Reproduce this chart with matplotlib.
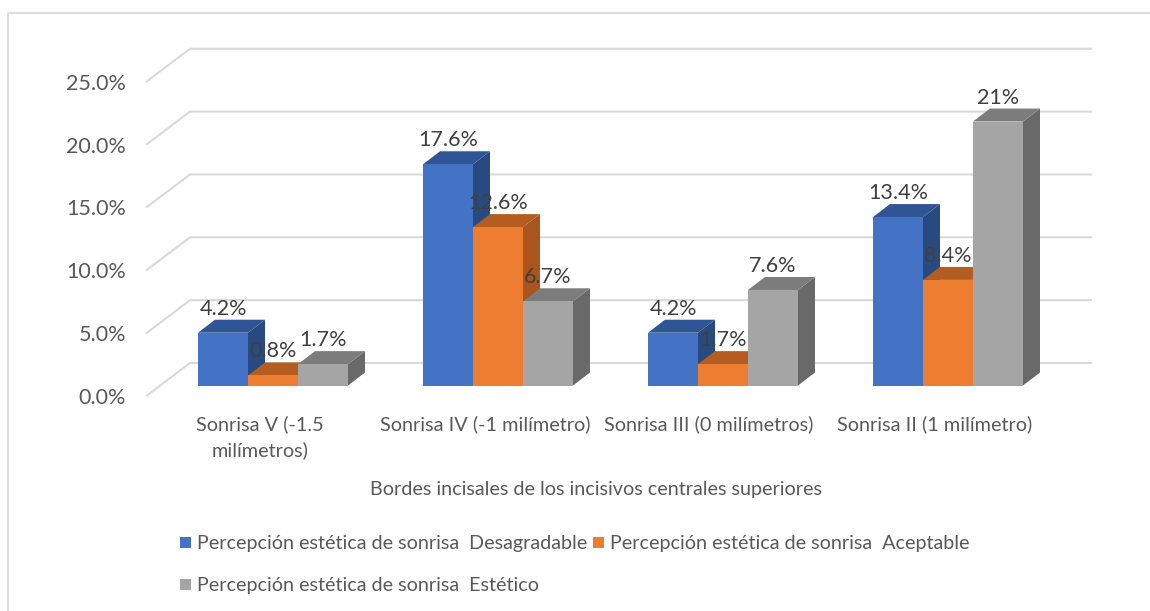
import matplotlib
matplotlib.use("Agg")
import matplotlib.pyplot as plt
from matplotlib.patches import Polygon, Rectangle

categories = ["Sonrisa V (-1.5\nmilímetros)", "Sonrisa IV (-1 milímetro)",
              "Sonrisa III (0 milímetros)", "Sonrisa II (1 milímetro)"]
series_names = ["Percepción estética de sonrisa  Desagradable",
                "Percepción estética de sonrisa  Aceptable",
                "Percepción estética de sonrisa  Estético"]
desagradable = [4.2, 17.6, 4.2, 13.4]
aceptable = [0.8, 12.6, 1.7, 8.4]
estetico = [1.7, 6.7, 7.6, 21.0]
labels_d = ["4.2%", "17.6%", "4.2%", "13.4%"]
labels_a = ["0.8%", "12.6%", "1.7%", "8.4%"]
labels_e = ["1.7%", "6.7%", "7.6%", "21%"]
yticks = [0, 5, 10, 15, 20, 25]
xtitle = "Bordes incisales de los incisivos centrales superiores"

W, H = 1150, 611
PX_CAT, PX_VAL = 225.0, 12.57
X0, Y0 = 273.0, 385.5

plt.rcParams['font.family'] = ['Lato', 'DejaVu Sans']
fig = plt.figure(figsize=(W / 100, H / 100), dpi=100, facecolor='white')
ax = fig.add_axes([0, 0, 1, 1])
ax.set_xlim((0 - X0) / PX_CAT, (W - X0) / PX_CAT)
ax.set_ylim((Y0 - H) / PX_VAL, Y0 / PX_VAL)
ax.axis('off')

def dx(px): return px / PX_CAT
def dy(px): return px / PX_VAL
def fx(px): return (px - X0) / PX_CAT
def fy(py): return (Y0 - py) / PX_VAL

# outer frame
ax.plot([fx(7.5), fx(7.5), fx(1150)], [fy(611), fy(13), fy(13)], color='#D9D9D9', lw=1.3, zorder=1)

# walls and gridlines
wall_dx, wall_dy = dx(43), dy(32.5)
front_x, front_y0 = fx(147), fy(395.5)
right_x = fx(1091)
for t in yticks:
    yf = front_y0 + t
    ax.plot([front_x, front_x + wall_dx, right_x], [yf, yf + wall_dy, yf + wall_dy],
            color='#D9D9D9', lw=1.5, zorder=1, solid_joinstyle='miter')
    ax.text(fx(126), yf - dy(0.5), f"{t:.1f}%", ha='right', va='center_baseline',
            fontsize=15.5, color='#595959', zorder=6)

# bars
series = [
    (desagradable, labels_d, '#4472C4', '#2F5597', '#284A80'),
    (aceptable, labels_a, '#ED7D31', '#B35D21', '#A9551D'),
    (estetico, labels_e, '#A5A5A5', '#7C7C7C', '#696969'),
]
bw = 50 / PX_CAT
ddx, ddy = dx(17), dy(13)
z = 2.0
for c in range(len(categories)):
    for s, (vals, labs, front, top, side) in enumerate(series):
        v = vals[c]
        x0 = c + (s - 1.5) * bw
        x1 = x0 + bw
        ax.add_patch(Polygon([(x1, 0), (x1 + ddx, ddy), (x1 + ddx, v + ddy), (x1, v)],
                             fc=side, ec='none', zorder=z))
        ax.add_patch(Polygon([(x0, v), (x1, v), (x1 + ddx, v + ddy), (x0 + ddx, v + ddy)],
                             fc=top, ec='none', zorder=z))
        ax.add_patch(Rectangle((x0, 0), bw, v, fc=front, ec='none', zorder=z + 0.1))
        z += 0.2
        ax.text(x0 + bw / 2, v + dy(26), labs[c], ha='center', va='center_baseline',
                fontsize=15.5, color='#404040', zorder=8)

# category labels
cat_center_px = [260, 485, 709, 935]
for px, name in zip(cat_center_px, categories):
    ax.text(fx(px), fy(423), name.split("\n")[0], ha='center', va='center_baseline',
            fontsize=14.3, color='#595959')
    if "\n" in name:
        ax.text(fx(px), fy(449), name.split("\n")[1], ha='center', va='center_baseline',
                fontsize=14.3, color='#595959')

ax.text(fx(596), fy(489), xtitle, ha='center', va='center', fontsize=14.2, color='#595959')

# legend
leg = [(0, 180, 543), (1, 593, 543), (2, 180, 585)]
for i, px, py in leg:
    col = series[i][2]
    ax.add_patch(Rectangle((fx(px), fy(py + 4.5)), dx(11), dy(11), fc=col, ec='none'))
    ax.text(fx(px + 17), fy(py), series_names[i], ha='left', va='center',
            fontsize=14.2, color='#595959')

fig.savefig('out.png', dpi=100)
